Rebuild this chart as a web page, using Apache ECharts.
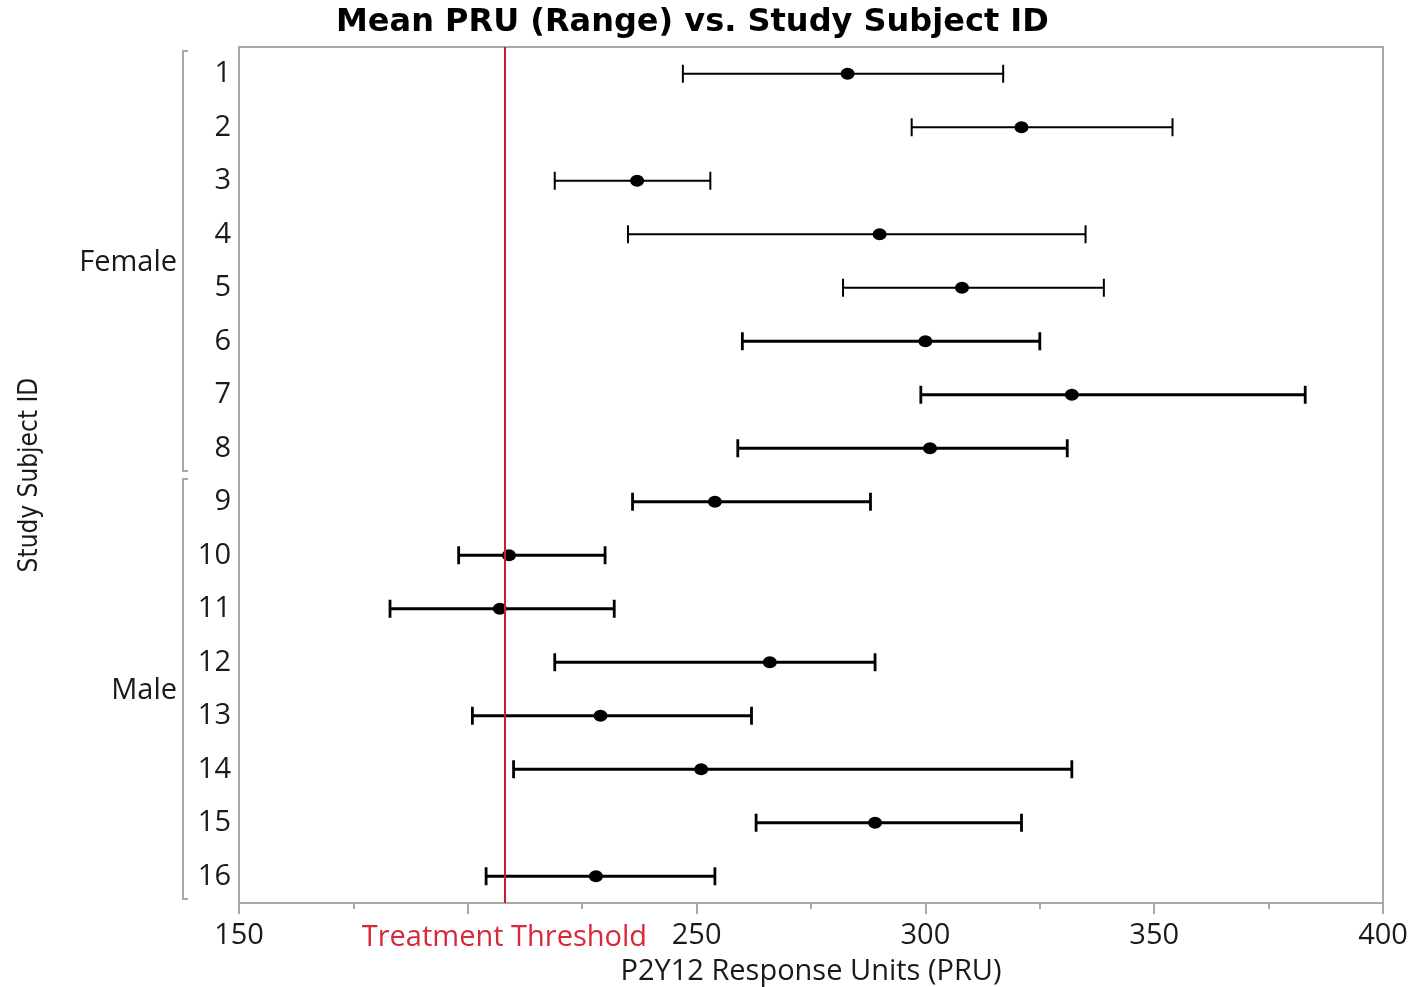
<!DOCTYPE html>
<html>
<head>
    <meta charset="UTF-8">
    <title>Mean PRU (Range) vs. Study Subject ID</title>
    <script src="https://cdn.jsdelivr.net/npm/echarts@6/dist/echarts.min.js"></script>
    <style>
        html, body { margin: 0; padding: 0; background: #fff; }
        #main { width: 1412px; height: 987px; }
    </style>
</head>
<body>
<div id="main"></div>
<script type="text/javascript">
    // data
    const subjects = ['1', '2', '3', '4', '5', '6', '7', '8', '9', '10', '11', '12', '13', '14', '15', '16'];
    const groups = [
        { name: 'Female', first: '1', last: '8' },
        { name: 'Male', first: '9', last: '16' }
    ];
    const meanPRU = [283, 321, 237, 290, 308, 300, 332, 301, 254, 209, 207, 266, 229, 251, 289, 228];
    const lowPRU = [247, 297, 219, 235, 282, 260, 299, 259, 236, 198, 183, 219, 201, 210, 263, 204];
    const highPRU = [317, 354, 253, 335, 339, 325, 383, 331, 288, 230, 232, 289, 262, 332, 321, 254];
    const thinRows = ['1', '2', '3', '4', '5'];
    const threshold = 208;

    const font = '"Open Sans", "Noto Sans", sans-serif';
    const gray = '#a8a8a8';
    const textColor = '#1a1a1a';

    let chart = echarts.init(document.getElementById('main'));

    let rangeData = subjects.map((s, i) => [i, lowPRU[i], highPRU[i]]);
    let meanData = subjects.map((s, i) => [meanPRU[i], s]);

    let option = {
        animation: false,
        title: {
            text: 'Mean PRU (Range) vs. Study Subject ID',
            left: 331,
            top: 2,
            textStyle: {
                fontFamily: '"DejaVu Sans", Verdana, sans-serif',
                fontWeight: 'bold',
                fontSize: 32,
                color: '#000'
            }
        },
        grid: {
            left: 239,
            right: 29,
            top: 47,
            bottom: 84,
            outerBoundsMode: 'none',
            show: true,
            borderColor: gray,
            borderWidth: 2,
            backgroundColor: '#fff'
        },
        xAxis: {
            type: 'value',
            min: 150,
            max: 400,
            interval: 50,
            name: 'P2Y12 Response Units (PRU)',
            nameLocation: 'middle',
            nameGap: 54,
            nameMoveOverlap: false,
            nameTextStyle: { fontFamily: font, fontSize: 29, color: textColor },
            axisLine: { show: true, lineStyle: { color: gray, width: 2 } },
            axisTick: { show: true, length: 11, lineStyle: { color: gray, width: 2 } },
            minorTick: { show: true, splitNumber: 2, length: 6, lineStyle: { color: gray, width: 2 } },
            splitLine: { show: false },
            axisLabel: {
                fontFamily: font,
                fontSize: 29,
                color: textColor,
                margin: 18,
                formatter: function (v) { return v === 200 ? '' : String(v); }
            }
        },
        yAxis: {
            type: 'category',
            data: subjects,
            inverse: true,
            name: 'Study Subject ID',
            nameLocation: 'middle',
            nameGap: 196,
            nameMoveOverlap: false,
            nameRotate: 90,
            nameTextStyle: { fontFamily: '"DejaVu Sans Condensed", "Liberation Sans Narrow", "Open Sans", sans-serif', fontSize: 26, color: textColor },
            axisLine: { show: true, lineStyle: { color: gray, width: 2 } },
            axisTick: { show: false },
            splitLine: { show: false },
            axisLabel: { fontFamily: font, fontSize: 29, color: textColor, margin: 8 }
        },
        series: [
            {
                name: 'Range',
                type: 'custom',
                data: rangeData,
                encode: { x: [1, 2], y: 0 },
                z: 3,
                renderItem: function (params, api) {
                    let row = api.value(0);
                    let lo = api.coord([api.value(1), row]);
                    let hi = api.coord([api.value(2), row]);
                    let thin = thinRows.indexOf(subjects[row]) >= 0;
                    let lw = thin ? 2 : 2.8;
                    let half = 9;
                    let style = { stroke: '#000', lineWidth: lw, fill: null };
                    return {
                        type: 'group',
                        children: [
                            { type: 'line', shape: { x1: lo[0], y1: lo[1], x2: hi[0], y2: hi[1] }, style: style },
                            { type: 'line', shape: { x1: lo[0], y1: lo[1] - half, x2: lo[0], y2: lo[1] + half }, style: style },
                            { type: 'line', shape: { x1: hi[0], y1: hi[1] - half, x2: hi[0], y2: hi[1] + half }, style: style }
                        ]
                    };
                }
            },
            {
                name: 'Mean',
                type: 'scatter',
                data: meanData,
                symbol: 'circle',
                symbolSize: [14, 12],
                itemStyle: { color: '#000', opacity: 1 },
                z: 4
            },
            {
                name: 'Threshold',
                type: 'line',
                data: [],
                markLine: {
                    silent: true,
                    symbol: 'none',
                    lineStyle: { color: '#d01c2a', width: 2, type: 'solid' },
                    label: {
                        show: true,
                        position: 'end',
                        distance: 20,
                        formatter: 'Treatment Threshold',
                        fontFamily: font,
                        fontSize: 29,
                        color: '#d8293a'
                    },
                    data: [{ xAxis: threshold }]
                }
            }
        ]
    };
    chart.setOption(option);

    // group brackets and labels, placed from the category axis positions
    let graphics = [];
    groups.forEach(function (g) {
        let yTop = chart.convertToPixel({ yAxisIndex: 0 }, g.first);
        let yBot = chart.convertToPixel({ yAxisIndex: 0 }, g.last);
        let half = 26.75;
        let x = 183;
        let y1 = yTop - half + 4;
        let y2 = yBot + half - 4;
        graphics.push({
            type: 'polyline',
            shape: { points: [[x + 5, y1], [x, y1], [x, y2], [x + 5, y2]] },
            style: { stroke: gray, lineWidth: 2, fill: null }
        });
        graphics.push({
            type: 'text',
            x: x - 6,
            y: (yTop + yBot) / 2 + 2,
            style: {
                text: g.name,
                fontFamily: font,
                fontSize: 29,
                fill: textColor,
                align: 'right',
                verticalAlign: 'middle'
            }
        });
    });
    chart.setOption({ graphic: graphics });
</script>
</body>
</html>
